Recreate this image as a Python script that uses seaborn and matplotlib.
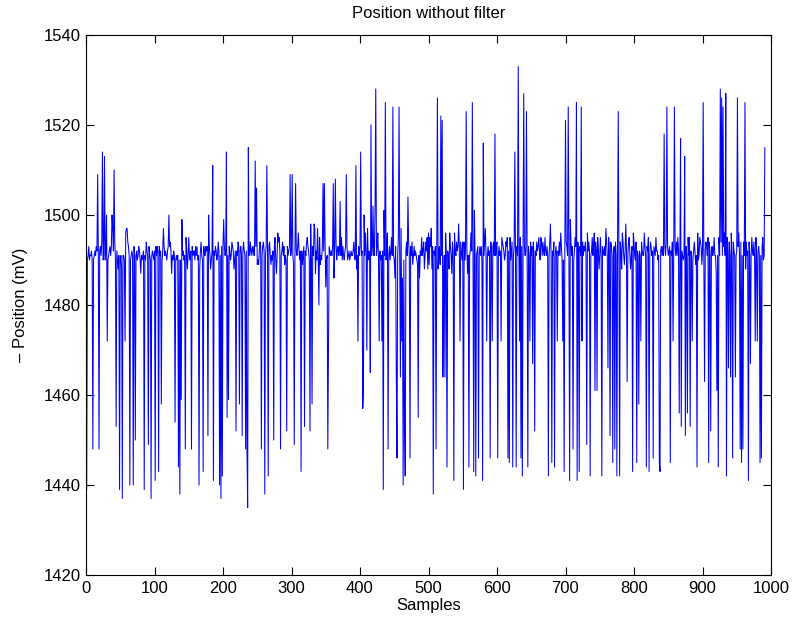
import numpy as np
import pandas as pd
import matplotlib
matplotlib.use("Agg")
import matplotlib.pyplot as plt
import seaborn as sns

title = "Position without filter"
xlabel = "Samples"
ylabel = "\u2013 Position (mV)"
xticks = [0, 100, 200, 300, 400, 500, 600, 700, 800, 900, 1000]
yticks = [1420, 1440, 1460, 1480, 1500, 1520, 1540]

position_0 = [
    1493, 1439, 1490, 1491, 1493, 1490, 1491, 1491, 1492, 1490,
    1448, 1490, 1491, 1492, 1491, 1493, 1492, 1509, 1491, 1448,
    1492, 1493, 1491, 1494, 1514, 1490, 1491, 1513, 1490, 1492,
    1500, 1472, 1490, 1491, 1492, 1493, 1491, 1493, 1500, 1497,
    1492, 1510, 1494, 1490, 1453, 1492, 1490, 1488, 1491, 1439,
    1490, 1491, 1488, 1437, 1491, 1491, 1490, 1472, 1496, 1497,
    1497, 1494, 1493, 1491, 1440, 1490, 1491, 1492, 1491, 1440,
    1493, 1491, 1450, 1491, 1492, 1490, 1491, 1493, 1492, 1490,
    1487, 1491, 1490, 1491, 1492, 1439, 1491, 1490, 1494, 1492,
    1491, 1449, 1493, 1491, 1490, 1437, 1491, 1492, 1491, 1490,
]
position_1 = [
    1492, 1441, 1493, 1491, 1493, 1492, 1443, 1493, 1491, 1492,
    1458, 1490, 1492, 1497, 1493, 1491, 1492, 1491, 1490, 1492,
    1493, 1500, 1493, 1494, 1492, 1487, 1491, 1490, 1492, 1491,
    1454, 1490, 1491, 1490, 1491, 1444, 1490, 1438, 1490, 1459,
    1499, 1491, 1492, 1490, 1491, 1448, 1495, 1492, 1488, 1491,
    1495, 1491, 1490, 1492, 1448, 1493, 1491, 1492, 1492, 1490,
    1493, 1491, 1493, 1490, 1491, 1440, 1488, 1492, 1494, 1491,
    1490, 1443, 1493, 1491, 1491, 1493, 1492, 1493, 1451, 1500,
    1493, 1491, 1488, 1490, 1492, 1511, 1441, 1492, 1491, 1493,
    1492, 1490, 1491, 1494, 1492, 1440, 1491, 1437, 1493, 1442,
]
position_2 = [
    1493, 1499, 1493, 1491, 1492, 1514, 1455, 1491, 1459, 1493,
    1492, 1490, 1491, 1494, 1493, 1492, 1488, 1490, 1492, 1452,
    1492, 1491, 1494, 1493, 1458, 1492, 1493, 1491, 1451, 1492,
    1494, 1492, 1491, 1448, 1492, 1448, 1435, 1515, 1491, 1492,
    1494, 1491, 1492, 1493, 1491, 1493, 1491, 1512, 1493, 1506,
    1489, 1490, 1489, 1492, 1494, 1493, 1448, 1491, 1493, 1494,
    1492, 1438, 1491, 1493, 1511, 1492, 1442, 1493, 1494, 1491,
    1489, 1491, 1490, 1492, 1450, 1493, 1495, 1490, 1487, 1491,
    1496, 1494, 1495, 1492, 1448, 1491, 1492, 1494, 1491, 1493,
    1489, 1491, 1490, 1452, 1493, 1491, 1492, 1493, 1509, 1491,
]
position_3 = [
    1493, 1509, 1491, 1489, 1449, 1491, 1507, 1492, 1491, 1493,
    1496, 1492, 1490, 1492, 1443, 1492, 1489, 1491, 1493, 1453,
    1492, 1491, 1494, 1495, 1493, 1492, 1490, 1452, 1498, 1490,
    1458, 1493, 1491, 1498, 1497, 1487, 1492, 1490, 1497, 1491,
    1480, 1495, 1489, 1491, 1490, 1493, 1507, 1492, 1507, 1494,
    1484, 1490, 1491, 1448, 1472, 1493, 1492, 1491, 1492, 1491,
    1493, 1507, 1486, 1492, 1508, 1494, 1490, 1492, 1493, 1491,
    1492, 1503, 1491, 1495, 1490, 1493, 1491, 1490, 1492, 1493,
    1509, 1493, 1490, 1491, 1492, 1490, 1491, 1492, 1491, 1491,
    1492, 1494, 1491, 1490, 1511, 1488, 1491, 1472, 1493, 1491,
]
position_4 = [
    1493, 1514, 1491, 1492, 1457, 1461, 1500, 1491, 1496, 1492,
    1470, 1497, 1490, 1492, 1491, 1465, 1520, 1491, 1493, 1502,
    1491, 1491, 1502, 1528, 1491, 1493, 1496, 1490, 1472, 1492,
    1490, 1491, 1472, 1492, 1439, 1501, 1491, 1525, 1490, 1492,
    1496, 1448, 1491, 1493, 1490, 1492, 1495, 1491, 1524, 1491,
    1490, 1486, 1493, 1464, 1446, 1491, 1495, 1524, 1491, 1464,
    1497, 1472, 1486, 1440, 1490, 1455, 1442, 1492, 1494, 1491,
    1504, 1494, 1491, 1446, 1493, 1491, 1494, 1489, 1491, 1493,
    1491, 1492, 1491, 1490, 1489, 1455, 1491, 1486, 1492, 1491,
    1495, 1491, 1492, 1494, 1488, 1491, 1494, 1492, 1495, 1488,
]
position_5 = [
    1496, 1489, 1495, 1493, 1497, 1488, 1493, 1438, 1492, 1491,
    1493, 1448, 1491, 1526, 1488, 1492, 1493, 1489, 1522, 1491,
    1521, 1464, 1485, 1491, 1464, 1496, 1491, 1444, 1492, 1491,
    1488, 1496, 1493, 1491, 1487, 1494, 1492, 1441, 1496, 1492,
    1491, 1494, 1492, 1493, 1498, 1493, 1472, 1494, 1492, 1490,
    1494, 1439, 1494, 1490, 1492, 1523, 1493, 1487, 1491, 1444,
    1491, 1492, 1496, 1492, 1525, 1491, 1443, 1501, 1491, 1442,
    1491, 1492, 1493, 1446, 1491, 1493, 1491, 1493, 1490, 1441,
    1516, 1491, 1494, 1497, 1491, 1472, 1491, 1493, 1491, 1492,
    1446, 1494, 1491, 1472, 1493, 1494, 1491, 1518, 1491, 1493,
]
position_6 = [
    1494, 1446, 1491, 1493, 1491, 1492, 1472, 1495, 1494, 1493,
    1492, 1490, 1491, 1494, 1493, 1495, 1446, 1492, 1445, 1495,
    1490, 1492, 1494, 1444, 1491, 1493, 1514, 1491, 1444, 1493,
    1491, 1533, 1492, 1472, 1495, 1446, 1493, 1442, 1491, 1527,
    1493, 1491, 1492, 1523, 1491, 1444, 1493, 1491, 1472, 1494,
    1491, 1493, 1467, 1494, 1491, 1452, 1492, 1491, 1494, 1492,
    1493, 1495, 1492, 1490, 1495, 1494, 1491, 1494, 1492, 1491,
    1495, 1492, 1491, 1493, 1491, 1442, 1491, 1494, 1498, 1491,
    1445, 1492, 1491, 1494, 1444, 1491, 1493, 1491, 1472, 1492,
    1491, 1494, 1491, 1496, 1493, 1490, 1472, 1490, 1443, 1491,
]
position_7 = [
    1521, 1494, 1493, 1491, 1524, 1492, 1441, 1499, 1494, 1491,
    1493, 1448, 1490, 1492, 1495, 1493, 1525, 1441, 1494, 1491,
    1443, 1493, 1491, 1524, 1472, 1494, 1491, 1493, 1492, 1494,
    1491, 1449, 1496, 1492, 1494, 1492, 1442, 1491, 1492, 1495,
    1491, 1493, 1496, 1461, 1494, 1492, 1461, 1495, 1492, 1488,
    1491, 1495, 1491, 1442, 1493, 1492, 1491, 1493, 1491, 1497,
    1494, 1491, 1466, 1495, 1492, 1451, 1494, 1493, 1491, 1445,
    1491, 1493, 1448, 1494, 1491, 1442, 1494, 1523, 1491, 1442,
    1494, 1492, 1488, 1496, 1494, 1491, 1489, 1492, 1498, 1492,
    1463, 1491, 1494, 1495, 1491, 1488, 1491, 1493, 1443, 1496,
]
position_8 = [
    1494, 1491, 1490, 1494, 1445, 1492, 1491, 1458, 1492, 1491,
    1472, 1494, 1492, 1491, 1491, 1496, 1493, 1491, 1444, 1493,
    1492, 1495, 1443, 1491, 1494, 1493, 1491, 1492, 1446, 1493,
    1492, 1491, 1495, 1492, 1492, 1490, 1491, 1445, 1443, 1492,
    1493, 1491, 1493, 1491, 1518, 1493, 1491, 1494, 1524, 1493,
    1491, 1492, 1493, 1445, 1492, 1491, 1494, 1472, 1491, 1524,
    1493, 1491, 1494, 1491, 1495, 1492, 1456, 1491, 1517, 1453,
    1492, 1491, 1490, 1491, 1513, 1451, 1493, 1491, 1456, 1495,
    1491, 1495, 1453, 1492, 1491, 1472, 1490, 1492, 1494, 1492,
    1489, 1491, 1444, 1496, 1490, 1491, 1495, 1494, 1493, 1489,
]
position_9 = [
    1492, 1525, 1489, 1463, 1492, 1494, 1493, 1491, 1495, 1445,
    1494, 1491, 1452, 1492, 1493, 1491, 1492, 1495, 1491, 1491,
    1487, 1461, 1491, 1444, 1495, 1491, 1528, 1494, 1526, 1491,
    1524, 1493, 1496, 1491, 1527, 1442, 1495, 1492, 1466, 1494,
    1491, 1464, 1496, 1491, 1446, 1494, 1492, 1491, 1464, 1491,
    1492, 1526, 1493, 1496, 1491, 1448, 1494, 1445, 1491, 1448,
    1494, 1491, 1525, 1488, 1494, 1491, 1492, 1441, 1494, 1491,
    1467, 1491, 1495, 1492, 1491, 1494, 1491, 1472, 1495, 1491,
    1472, 1492, 1493, 1491, 1445, 1491, 1446, 1493, 1495, 1490,
    1491, 1515,
]

values = (position_0 + position_1 + position_2 + position_3 + position_4
          + position_5 + position_6 + position_7 + position_8 + position_9)
df = pd.DataFrame({"Samples": np.arange(len(values)), "Position": values})

sns.set_theme(style="white")
plt.rcParams["font.family"] = ["Liberation Sans", "DejaVu Sans"]
plt.rcParams["text.color"] = "black"
plt.rcParams["axes.labelcolor"] = "black"
plt.rcParams["xtick.color"] = "black"
plt.rcParams["ytick.color"] = "black"

fig = plt.figure(figsize=(7.92, 6.26), dpi=100)
ax = fig.add_axes([86 / 792, 1 - 575 / 626, 685 / 792, 540 / 626])

sns.lineplot(data=df, x="Samples", y="Position", ax=ax, color="#0000ff",
             linewidth=0.75, estimator=None)

ax.set_xlim(0, 1000)
ax.set_ylim(1420, 1540)
ax.set_xticks(xticks)
ax.set_yticks(yticks)
ax.set_xticklabels([str(t) for t in xticks], fontsize=12)
ax.set_yticklabels([str(t) for t in yticks], fontsize=12)
ax.tick_params(direction="in", length=6, width=0.8, top=True, right=True,
               bottom=True, left=True, colors="black", labelcolor="black",
               pad=4)
for s in ax.spines.values():
    s.set_visible(True)
    s.set_color("black")
    s.set_linewidth(0.8)
ax.set_xlabel(xlabel, fontsize=12, labelpad=2, color="black")
ax.set_ylabel(ylabel, fontsize=12, labelpad=11, color="black")
ax.set_title(title, fontsize=12, pad=12, color="black")
ax.grid(False)

fig.savefig("out.png", dpi=100, facecolor="white")
